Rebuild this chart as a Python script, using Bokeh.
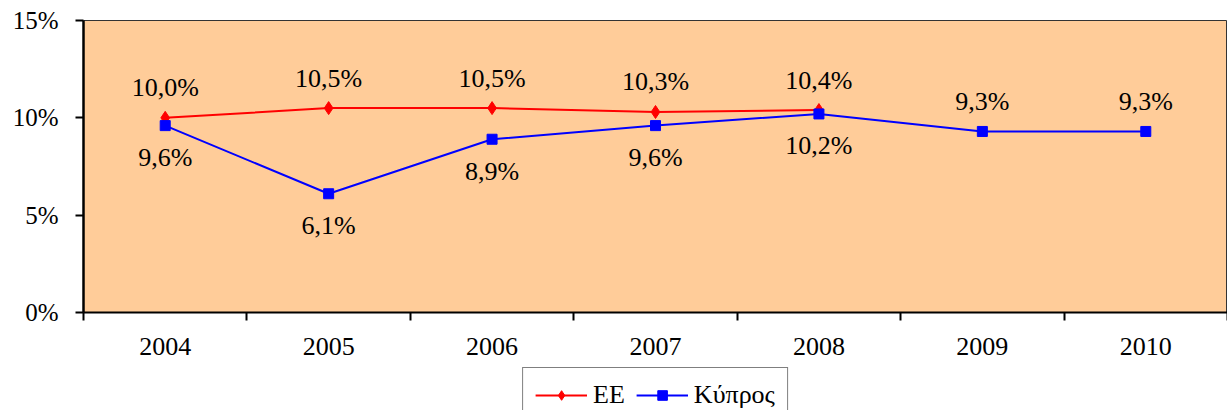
from bokeh.plotting import figure
from bokeh.layouts import column
from bokeh.models import FixedTicker, PrintfTickFormatter, Legend, LegendItem, ColumnDataSource, Range1d
from bokeh.core.properties import value
from bokeh.embed import file_html
from bokeh.resources import INLINE

years = ["2004", "2005", "2006", "2007", "2008", "2009", "2010"]
ee = [10.0, 10.5, 10.5, 10.3, 10.4, None, None]
cyprus = [9.6, 6.1, 8.9, 9.6, 10.2, 9.3, 9.3]
cyprus_label_above = [False, False, False, False, False, True, True]
y_ticks = [0, 5, 10, 15]
series_names = ["ΕΕ", "Κύπρος"]
series_colors = ["#FF0000", "#0000FF"]
series_markers = ["diamond", "square"]
marker_sizes = [13, 10]

FONT = "Liberation Serif"
ABOVE, BELOW = -30, 32

def fmt(v):
    return f"{v:.1f}".replace(".", ",") + "%"

xs = list(range(len(years)))
ee_idx = [i for i, v in enumerate(ee) if v is not None]
ee_src = ColumnDataSource(dict(
    x=[xs[i] for i in ee_idx],
    y=[ee[i] for i in ee_idx],
    t=[fmt(ee[i]) for i in ee_idx],
    off=[ABOVE for _ in ee_idx],
))
cy_src = ColumnDataSource(dict(
    x=xs, y=cyprus, t=[fmt(v) for v in cyprus],
    off=[ABOVE if a else BELOW for a in cyprus_label_above],
))

p = figure(frame_width=1144, frame_height=292, output_backend="svg", toolbar_location=None,
           x_range=Range1d(-0.5, len(years) - 0.5), y_range=Range1d(0, 15),
           min_border_left=83, min_border_top=20, min_border_right=0, min_border_bottom=55)
p.background_fill_color = "#FFCC99"
p.border_fill_color = "white"
p.outline_line_color = "#333333"
p.outline_line_width = 1
p.xgrid.visible = False
p.ygrid.visible = False

# y axis
p.yaxis.ticker = FixedTicker(ticks=y_ticks, minor_ticks=[])
p.yaxis.formatter = PrintfTickFormatter(format="%d%%")
p.yaxis.major_label_text_font = FONT
p.yaxis.major_label_text_font_size = "25px"
p.yaxis.major_label_text_color = "black"
p.yaxis.axis_line_width = 2.5
p.yaxis.axis_line_color = "black"
p.yaxis.major_tick_out = 8
p.yaxis.major_tick_in = 0
p.yaxis.major_tick_line_width = 2
p.yaxis.major_label_standoff = 17

# x axis: labels at centers, ticks at boundaries
p.xaxis.ticker = FixedTicker(ticks=xs, minor_ticks=[i - 0.5 for i in range(len(years) + 1)])
p.xaxis.major_label_overrides = {i: y for i, y in enumerate(years)}
p.xaxis.major_label_text_font = FONT
p.xaxis.major_label_text_font_size = "26px"
p.xaxis.major_label_text_color = "black"
p.xaxis.axis_line_width = 2
p.xaxis.axis_line_color = "black"
p.xaxis.major_tick_out = 0
p.xaxis.major_tick_in = 0
p.xaxis.minor_tick_out = 8
p.xaxis.minor_tick_in = 0
p.xaxis.minor_tick_line_width = 2
p.xaxis.minor_tick_line_color = "black"
p.xaxis.major_label_standoff = 17

for src, c, m, s in zip((ee_src, cy_src), series_colors, series_markers, marker_sizes):
    p.line("x", "y", source=src, line_color=c, line_width=2)
    p.scatter("x", "y", source=src, marker=m, size=s, fill_color=c, line_color=c)

for src in (ee_src, cy_src):
    p.text("x", "y", text="t", source=src, y_offset="off", text_align="center", text_baseline="middle",
           text_font=value(FONT), text_font_size="26px", text_color="black")

# legend strip below the chart
lg = figure(width=1227, height=43, output_backend="svg", toolbar_location=None,
            x_range=Range1d(0, 1), y_range=Range1d(0, 1), x_axis_type=None, y_axis_type=None,
            min_border_left=83, min_border_top=0, min_border_right=0, min_border_bottom=0)
lg.outline_line_color = None
lg.xgrid.visible = False
lg.ygrid.visible = False
items = []
for name, c, m, s in zip(series_names, series_colors, series_markers, marker_sizes):
    src = ColumnDataSource(dict(x=[float("nan")], y=[float("nan")]))
    r1 = lg.line("x", "y", source=src, line_color=c, line_width=2)
    r2 = lg.scatter("x", "y", source=src, marker=m, size=s + 1, fill_color=c, line_color=c)
    items.append(LegendItem(label=value(name), renderers=[r1, r2]))

legend = Legend(items=items, orientation="horizontal", location="top_center")
legend.label_text_font = FONT
legend.label_text_font_style = "normal"
legend.label_text_font_size = "26px"
legend.label_text_color = "black"
legend.label_height = 24
legend.glyph_width = 52
legend.glyph_height = 24
legend.label_standoff = 6
legend.spacing = 11
legend.padding = 12
legend.margin = 0
legend.border_line_color = "black"
legend.border_line_width = 1.5
legend.background_fill_color = "white"
lg.add_layout(legend, "center")

layout = column(p, lg, spacing=0)
open("out.html", "w").write(file_html(layout, INLINE))
